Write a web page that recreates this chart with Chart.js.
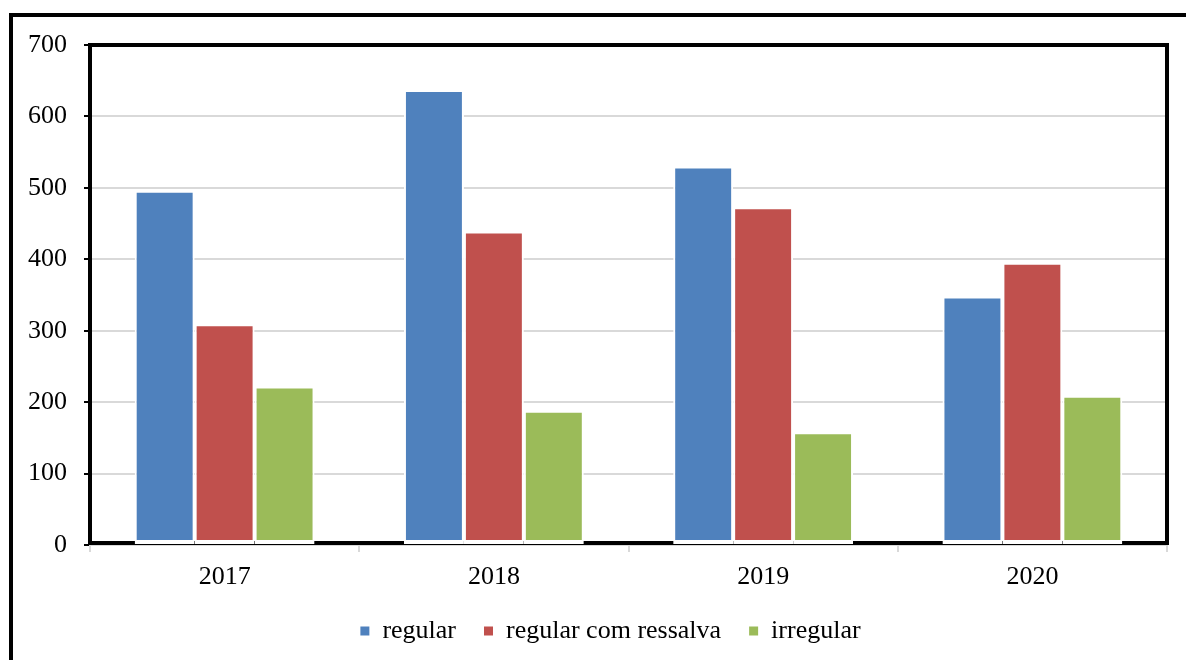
<!DOCTYPE html>
<html>
<head>
<meta charset="utf-8">
<script src="https://cdn.jsdelivr.net/npm/chart.js@4/dist/chart.umd.min.js"></script>
<style>
  html, body { margin: 0; padding: 0; background: #ffffff; }
  #wrap { width: 1186px; height: 660px; position: relative; }
</style>
</head>
<body>
<div id="wrap"><canvas id="c" width="1186" height="660"></canvas></div>
<script>
const years = ['2017', '2018', '2019', '2020'];
const regular = [496, 637, 530, 348];
const regularComRessalva = [309, 439, 473, 395];
const irregular = [222, 188, 158, 209];
const yTicks = [0, 100, 200, 300, 400, 500, 600, 700];

const seriesNames = ['regular', 'regular com ressalva', 'irregular'];
const seriesColors = ['#4F81BD', '#C0504D', '#9BBB59'];
const FONT = '"Liberation Serif", "Times New Roman", serif';
const PAD_BOTTOM = 6;
const PLOT_BOTTOM = 545;

// Outer page frame (left and top rules) behind the chart
const pageFrame = {
  id: 'pageFrame',
  beforeDraw(chart) {
    const ctx = chart.ctx;
    ctx.save();
    ctx.fillStyle = '#ffffff';
    ctx.fillRect(0, 0, chart.width, chart.height);
    ctx.strokeStyle = '#000000';
    ctx.lineWidth = 4;
    ctx.beginPath();
    ctx.moveTo(11, chart.height);
    ctx.lineTo(11, 15);
    ctx.lineTo(chart.width, 15);
    ctx.stroke();
    ctx.restore();
  }
};

// Heavy black box around the plot area, drawn under the bars
const plotFrame = {
  id: 'plotFrame',
  beforeDatasetsDraw(chart) {
    const a = chart.chartArea;
    const ctx = chart.ctx;
    ctx.save();
    ctx.strokeStyle = '#000000';
    ctx.lineWidth = 4;
    ctx.strokeRect(a.left, a.top, a.right - a.left, a.bottom - 2 - a.top);
    ctx.restore();
  }
};

// Nudge the legend row a little to the right of the canvas centre
const legendShift = {
  id: 'legendShift',
  afterLayout(chart) {
    const lg = chart.legend;
    if (!lg) return;
    lg.left += 27;
    lg.right += 27;
  }
};

const dataSeries = [regular, regularComRessalva, irregular];

new Chart(document.getElementById('c'), {
  type: 'bar',
  data: {
    labels: years,
    datasets: dataSeries.map((d, i) => ({
      label: seriesNames[i],
      data: d,
      backgroundColor: seriesColors[i],
      borderColor: '#ffffff',
      borderWidth: { top: 2, left: 2, right: 2, bottom: 4 },
      borderSkipped: false,
      categoryPercentage: 0.668,
      barPercentage: 1.0
    }))
  },
  options: {
    responsive: false,
    animation: false,
    devicePixelRatio: 1,
    layout: { padding: { left: 0, right: 19, top: 45, bottom: PAD_BOTTOM } },
    plugins: {
      title: { display: false },
      tooltip: { enabled: false },
      legend: {
        position: 'bottom',
        labels: {
          boxWidth: 9,
          boxHeight: 9,
          padding: 28,
          color: '#000000',
          font: { family: FONT, size: 26 },
          generateLabels(chart) {
            return Chart.defaults.plugins.legend.labels.generateLabels(chart).map(l => {
              l.lineWidth = 0;
              l.strokeStyle = 'rgba(0,0,0,0)';
              return l;
            });
          }
        }
      }
    },
    scales: {
      x: {
        afterFit(scale) {
          const lg = scale.chart.legend;
          const lh = lg ? lg.height : 0;
          scale.height = scale.chart.height - PLOT_BOTTOM - PAD_BOTTOM - lh;
        },
        grid: {
          drawOnChartArea: false,
          drawTicks: true,
          tickLength: 7,
          color: '#d9d9d9',
          lineWidth: 2
        },
        border: { display: true, color: '#d9d9d9', width: 2 },
        ticks: {
          color: '#000000',
          padding: 10,
          font: { family: FONT, size: 26 }
        }
      },
      y: {
        min: 0,
        max: 700,
        afterFit(scale) { scale.width = 90; },
        afterBuildTicks(scale) { scale.ticks = yTicks.map(v => ({ value: v })); },
        grid: {
          color: '#d9d9d9',
          lineWidth: 2,
          tickColor: '#000000',
          tickLength: 6,
          tickWidth: 2
        },
        border: { display: false },
        ticks: {
          color: '#000000',
          padding: 17,
          font: { family: FONT, size: 26 }
        }
      }
    }
  },
  plugins: [pageFrame, plotFrame, legendShift]
});
</script>
</body>
</html>
